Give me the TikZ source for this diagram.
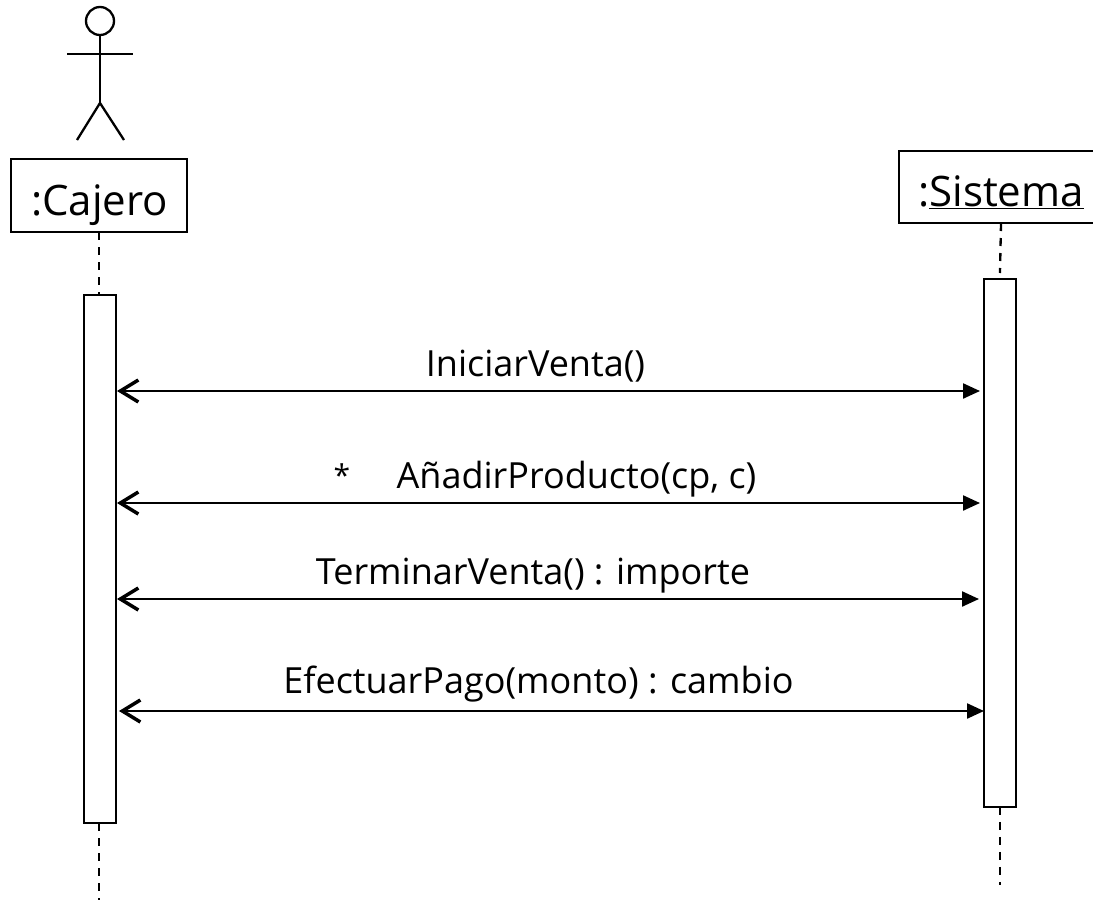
\documentclass[tikz,border=0pt]{standalone}
\usepackage{fontspec}
\setmainfont{Open Sans}
\usetikzlibrary{arrows.meta}
\tikzset{
  line/.style={draw=black,line width=2.3pt},
  lifeline/.style={draw=black,line width=2.3pt,dash pattern=on 8pt off 7pt},
  objbox/.style={line,fill=white,inner sep=0pt,outer sep=0pt,anchor=north west},
  activation/.style={line,fill=white,inner sep=0pt,outer sep=0pt,minimum width=32pt,anchor=north west},
  msg/.style={line,{Straight Barb[length=18pt,width=22pt,line width=3.5pt]}-{Triangle[length=17pt,width=15pt]}},
  lbl/.style={anchor=base,inner sep=0pt,font=\fontsize{36}{42}\selectfont},
  starlbl/.style={anchor=base,inner sep=0pt,font=\fontsize{30}{36}\selectfont},
  objlbl/.style={anchor=base,inner sep=0pt,font=\fontsize{42}{50}\selectfont},
}
\begin{document}
\begin{tikzpicture}[x=1pt,y=-1pt]
\useasboundingbox (0,0) rectangle (1093,900);
% actor
\node[circle,line,minimum size=28pt,inner sep=0pt,outer sep=0pt] (head) at (100,21) {};
\coordinate (hip) at (100,103);
\coordinate (armL) at (67,54);
\coordinate (armR) at (133,54);
\coordinate (legL) at (77,140);
\coordinate (legR) at (124,140);
\draw[line] (head.south) -- (hip);
\draw[line] (armL) -- (armR);
\draw[line] (legL) -- (hip) -- (legR);
% lifelines
\node[objbox,minimum width=175.5pt,minimum height=72.5pt] (cajero) at (11.3,159.3) {};
\node[objbox,minimum width=200pt,minimum height=71.7pt] (sistema) at (899,151) {};
\node[activation,minimum height=528pt] (actA) at (84,295) {};
\node[activation,minimum height=527.5pt] (actB) at (984.2,279.3) {};
\coordinate (endA) at (99,900);
\coordinate (endB) at (1000,885);
\coordinate (topA) at (99,232);
\coordinate (topB) at (1001,223);
\draw[lifeline] (topA) -- (99,295);
\draw[lifeline] (topB) -- (1000,273);
\draw[lifeline] (99,823) -- (endA);
\draw[lifeline] (1000,806.8) -- (endB);
\node[objlbl] (cajeroT) at (99.5,215.5) {:Cajero};
\node[objlbl] (sistemaT) at (1001,206.5) {:\underline{Sistema}};
% messages
\coordinate (a1) at (117,391); \coordinate (b1) at (980,391);
\coordinate (a2) at (117,503); \coordinate (b2) at (980,503);
\coordinate (a3) at (117,599); \coordinate (b3) at (979,599);
\coordinate (a4) at (119,711); \coordinate (b4) at (984,711);
\draw[msg] (a1) -- (b1);
\draw[msg] (a2) -- (b2);
\draw[msg] (a3) -- (b3);
\draw[msg] (a4) -- (b4);
\node[lbl] (m1) at (535.5,376) {IniciarVenta()};
\node[starlbl] (star) at (342,486) {*};
\node[lbl] (m2) at (576.5,488) {AñadirProducto(cp, c)};
\node[lbl] (m3) at (533,584) {TerminarVenta() : importe};
\node[lbl] (m4) at (538.5,693) {EfectuarPago(monto) : cambio};
\end{tikzpicture}
\end{document}
